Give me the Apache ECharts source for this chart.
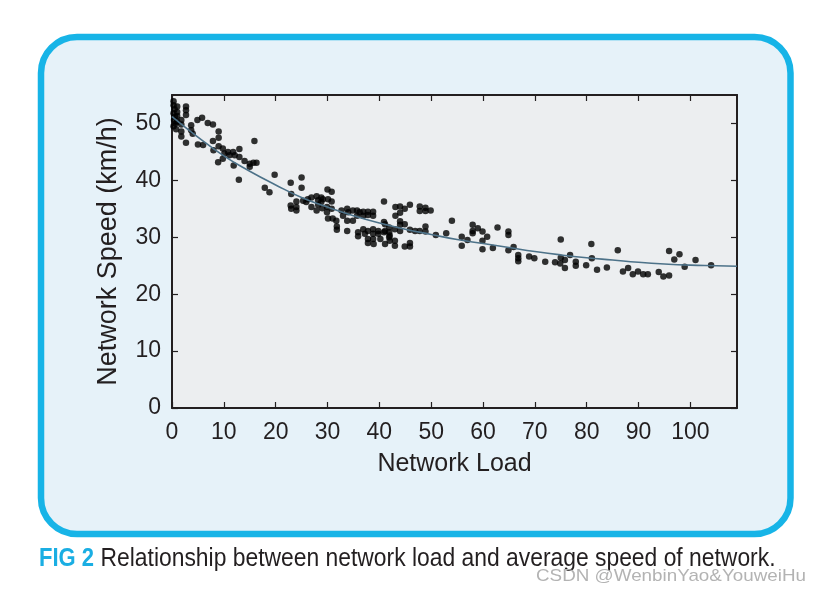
<!DOCTYPE html>
<html><head><meta charset="utf-8">
<script src="https://cdn.jsdelivr.net/npm/echarts@6/dist/echarts.min.js"></script>
<style>html,body{margin:0;padding:0;background:#fff}#c{width:822px;height:591px}</style>
</head><body><div id="c"></div>
<script>
const xTicks = [0,10,20,30,40,50,60,70,80,90,100];
const yTicks = [0,10,20,30,40,50];
const observations = [
[0.3,53.9],[0.3,53.2],[0.5,52.5],[0.3,51.8],[0.6,51.2],[0.4,50.6],[0.7,50.0],[0.3,49.5],[1.0,53.0],[1.0,52.0],[1.0,51.3],[1.0,50.3],[0.8,49.0],
[1.8,50.6],[1.8,49.8],[1.8,48.6],[1.8,47.7],
[2.7,53.0],[2.7,52.3],[2.7,51.5],[2.7,46.6],
[3.7,49.7],[3.7,48.8],[4.0,48.2],
[4.9,50.6],[5.8,51.0],[6.9,50.1],[7.9,49.8],
[5.0,46.3],[6.0,46.2],
[9.0,48.6],[9.0,47.5],[7.9,46.9],[8.0,45.3],
[9.0,46.0],[9.8,45.6],[10.1,44.7],[10.8,45.0],[11.1,44.4],[9.8,43.8],[8.9,43.2],[11.8,45.0],[12.1,44.4],[13.0,45.5],[13.0,44.1],[11.9,42.6],
[14.0,43.4],[15.0,42.9],[15.0,42.4],[15.7,43.1],[16.3,43.1],
[15.9,46.9],[12.9,40.1],[17.9,38.7],[18.8,37.9],[19.8,41.0],
[22.9,39.6],[25.0,40.5],[25.0,38.7],[23.0,37.6],[24.0,36.3],[25.3,36.4],[26.2,36.7],
[22.9,35.6],[23.0,35.0],[24.0,35.3],[24.0,34.7],
[25.9,36.2],[26.9,37.0],[27.9,37.2],[28.2,36.5],[28.8,37.0],[28.8,36.2],[29.1,36.7],[26.9,35.3],[27.9,34.7],[28.2,35.7],[29.0,35.1],
[30.0,38.4],[30.8,38.0],[30.1,36.7],[30.8,36.3],[29.9,35.3],[30.8,35.0],[29.9,34.4],[30.1,33.3],[31.0,33.3],[31.7,32.9],[31.8,31.9],[31.8,31.3],
[32.7,34.7],[33.0,33.8],[33.8,35.0],[34.0,34.4],[33.8,32.9],[34.9,34.7],[34.9,32.9],[33.8,31.1],[35.7,34.7],[35.7,33.8],[36.2,34.4],[36.9,34.5],[36.9,33.8],[37.8,34.5],[37.8,33.9],[38.8,34.5],[38.8,33.8],
[35.9,30.9],[35.9,30.2],[36.9,31.4],[37.2,30.6],[37.8,31.1],[37.8,29.7],[37.8,29.0],[38.8,31.4],[38.8,30.6],[38.8,29.7],[38.9,28.8],[39.8,31.1],[39.8,30.6],[40.2,29.7],[41.1,32.3],[41.1,31.1],[41.1,28.8],[41.9,31.7],[42.0,30.3],[42.0,29.4],[43.0,31.4],[43.0,28.5],
[40.9,36.3],[43.1,35.3],[43.1,33.8],
[44.0,35.4],[44.9,35.0],[45.9,35.7],[47.8,35.4],[47.8,34.6],[48.9,35.2],[48.9,34.6],[49.9,34.7],
[44.0,34.3],[44.0,32.8],[44.0,32.2],[44.9,32.3],[44.0,31.1],[45.9,31.3],[46.9,31.1],[47.8,31.1],[48.9,31.9],[48.9,31.0],
[40.9,32.7],[40.9,30.9],[41.9,30.9],[41.9,30.0],[43.0,29.4],[44.9,28.4],[45.9,29.0],[45.9,28.4],
[50.9,30.4],[52.9,30.7],[54.0,32.9],[55.9,30.1],[55.9,28.5],[57.0,29.5],
[58.0,32.2],[58.0,31.1],[58.0,30.7],[59.0,31.6],[59.9,31.0],[59.9,29.4],[60.8,30.1],[59.9,27.9],[61.9,28.1],[62.8,31.7],[64.9,31.0],[64.9,30.4],[64.9,27.7],[65.9,28.3],[66.8,26.9],[66.8,26.3],[66.8,25.8],[68.9,26.6],[69.9,26.3],[72.0,25.7],
[73.9,25.6],[74.9,25.4],[75.0,26.4],[75.8,26.0],[75.8,24.6],[76.8,26.9],[75.0,29.6],[77.9,25.7],[77.9,25.0],[79.9,25.1],[81.0,26.3],[82.0,24.3],[83.9,24.7],[80.9,28.8],[86.0,27.7],
[87.0,24.0],[88.0,24.6],[88.9,23.5],[89.9,24.0],[90.9,23.5],[91.8,23.5],[93.9,23.9],[94.8,23.1],[95.9,23.3],[95.9,27.6],[96.9,26.1],[97.9,27.0],[98.9,24.8],[101.0,26.0],[104.0,25.1]
];
const fitLoad  = [0,5,10,15,20,25,30,35,40,45,50,55,60,65,70,75,80,85,90,95,100,105,109];
const fitSpeed = [51.2,47.6,44.3,41.6,39.2,37.0,35.3,33.8,32.5,31.4,30.5,29.6,28.9,28.2,27.5,26.9,26.4,26.0,25.6,25.3,25.1,25.0,24.9];
const xTitle = 'Network Load';
const yTitle = 'Network Speed (km/h)';
const captionLead = 'FIG 2';
const captionText = 'Relationship between network load and average speed of network.';
const watermark = 'CSDN @WenbinYao&YouweiHu';

const FONT = '"Liberation Sans", Arial, Helvetica, sans-serif';
const cv = document.createElement('canvas').getContext('2d');
function fitScale(text, font, target){ cv.font = font; return target / cv.measureText(text).width; }
const leadFont = 'bold 25px ' + FONT;
const capFont = '25px ' + FONT;
const wmFont = '17px ' + FONT;
const sLead = fitScale(captionLead, leadFont, 55);
const sCap = fitScale(captionText, capFont, 675);
const sWm = fitScale(watermark, wmFont, 270);

const chart = echarts.init(document.getElementById('c'), null, {renderer:'canvas'});
const axisLine = {show:true, onZero:false, lineStyle:{color:'#231f20', width:2}};
const tick = {show:true, inside:true, length:6, lineStyle:{color:'#231f20', width:1.2}};
chart.setOption({
  animation:false,
  backgroundColor:'#ffffff',
  grid:{left:172, right:85, top:95, bottom:183, show:true, backgroundColor:'#eceef0', borderWidth:0},
  xAxis:[{
    type:'value', min:0, max:109, interval:10, position:'bottom',
    axisLine, axisTick:Object.assign({customValues:xTicks}, tick), splitLine:{show:false},
    axisLabel:{customValues:xTicks, color:'#231f20', fontSize:23, fontFamily:FONT, margin:13},
    name:xTitle, nameLocation:'middle', nameGap:44,
    nameTextStyle:{color:'#231f20', fontSize:25, fontFamily:FONT}
  },{
    type:'value', min:0, max:109, interval:10, position:'top',
    axisLine, axisTick:Object.assign({customValues:xTicks}, tick), axisLabel:{show:false}, splitLine:{show:false}
  }],
  yAxis:[{
    type:'value', min:0, max:55, interval:10, position:'left',
    axisLine, axisTick:Object.assign({customValues:yTicks}, tick), splitLine:{show:false},
    axisLabel:{customValues:yTicks, color:'#231f20', fontSize:23, fontFamily:FONT, margin:11},
    name:yTitle, nameLocation:'middle', nameGap:50, nameRotate:90,
    nameTextStyle:{color:'#231f20', fontSize:27, fontFamily:FONT}
  },{
    type:'value', min:0, max:55, interval:10, position:'right',
    axisLine, axisTick:Object.assign({customValues:yTicks}, tick), axisLabel:{show:false}, splitLine:{show:false}
  }],
  series:[{
    type:'scatter', data:observations, symbol:'circle', symbolSize:6.5,
    itemStyle:{color:'#000000'}, z:3
  },{
    type:'line', data:fitLoad.map((x,i)=>[x, fitSpeed[i]]), smooth:true, showSymbol:false,
    lineStyle:{color:'#4d7289', width:1.6}, z:4
  }],
  graphic:[
    {type:'rect', z:-100, silent:true, shape:{x:41, y:37, width:749.5, height:497, r:36},
     style:{fill:'#e6f2f9', stroke:'#17b4e7', lineWidth:6.5}},
    {type:'text', x:39, y:559, scaleX:sLead, style:{text:captionLead, font:leadFont, fill:'#1aaee3', verticalAlign:'middle'}},
    {type:'text', x:100.5, y:559, scaleX:sCap, style:{text:captionText, font:capFont, fill:'#231f20', verticalAlign:'middle'}},
    {type:'text', x:536, y:576, scaleX:sWm, style:{text:watermark, font:wmFont, fill:'#b3b3b3', verticalAlign:'middle'}}
  ]
});
</script></body></html>
